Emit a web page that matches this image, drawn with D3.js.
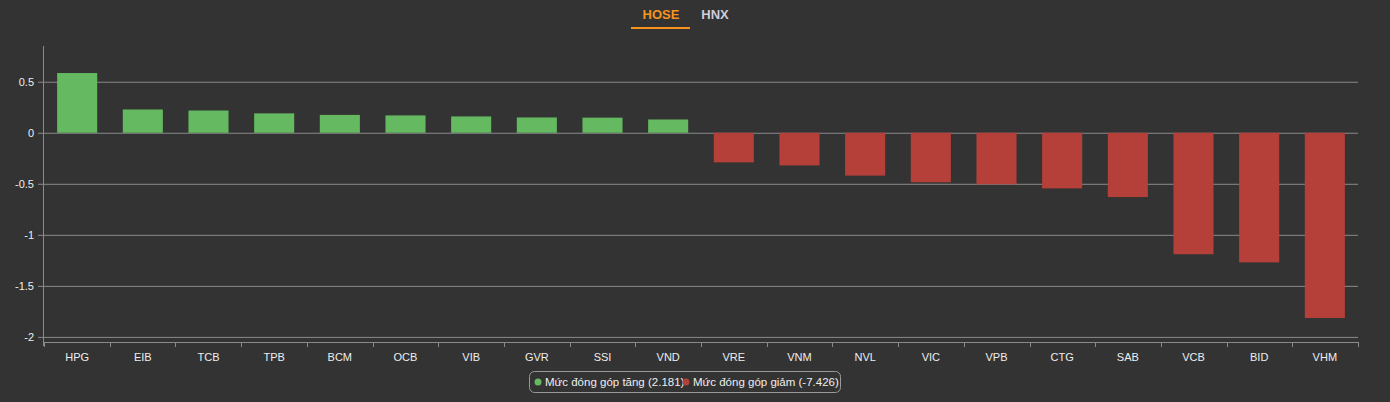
<!DOCTYPE html>
<html><head><meta charset="utf-8">
<script src="https://cdn.jsdelivr.net/npm/d3@7"></script>
<style>body{margin:0;background:#333;}svg{display:block;font-family:"Liberation Sans",Arial,sans-serif;}</style>
</head><body><svg id="c" width="1390" height="402"></svg>
<script>
const categories=["HPG","EIB","TCB","TPB","BCM","OCB","VIB","GVR","SSI","VND","VRE","VNM","NVL","VIC","VPB","CTG","SAB","VCB","BID","VHM"];
const values=[0.585,0.228,0.218,0.19,0.175,0.17,0.16,0.15,0.148,0.13,-0.29,-0.32,-0.42,-0.485,-0.505,-0.545,-0.63,-1.19,-1.27,-1.815];
const yTicks=[0.5,0,-0.5,-1,-1.5,-2];
const tabs=["HOSE","HNX"];
const legend=["Mức đóng góp tăng (2.181)","Mức đóng góp giảm (-7.426)"];
const svg=d3.select("#c");
const x=d3.scaleBand().domain(categories).range([44,1358]).paddingInner(0.39).paddingOuter(0.2);
const y=d3.scaleLinear().domain([-2.05,0.85]).range([342,46]);
// tabs
svg.append("text").attr("x",661).attr("y",19).attr("text-anchor","middle").attr("fill","#f7941d").attr("font-size",13).attr("font-weight","bold").text(tabs[0]);
svg.append("rect").attr("x",631).attr("y",27).attr("width",59).attr("height",2).attr("fill","#f7941d");
svg.append("text").attr("x",715).attr("y",19).attr("text-anchor","middle").attr("fill","#ccd").attr("font-size",13).attr("font-weight","bold").text(tabs[1]);
// grid
svg.append("g").selectAll("line").data(yTicks).join("line").attr("x1",44).attr("x2",1358).attr("y1",d=>y(d)+0.5).attr("y2",d=>y(d)+0.5).attr("stroke","#8a8a8a").attr("stroke-width",1);
svg.append("g").selectAll("text").data(yTicks).join("text").attr("x",34).attr("y",d=>y(d)+4).attr("text-anchor","end").attr("fill","#eee").attr("font-size",11).text(d=>d);
svg.append("g").selectAll("line").data(yTicks).join("line").attr("x1",38).attr("x2",43).attr("y1",d=>y(d)+0.5).attr("y2",d=>y(d)+0.5).attr("stroke","#8a8a8a");
svg.append("line").attr("x1",43.5).attr("x2",43.5).attr("y1",46).attr("y2",346).attr("stroke","#8a8a8a");
// bars
svg.append("g").selectAll("rect").data(values).join("rect")
 .attr("x",(d,i)=>x(categories[i])).attr("width",x.bandwidth())
 .attr("y",d=>d>0?y(d):y(0)).attr("height",d=>Math.abs(y(d)-y(0)))
 .attr("fill",d=>d>0?"#65b960":"#b5403a");
// x axis
svg.append("line").attr("x1",44).attr("x2",1358).attr("y1",342.5).attr("y2",342.5).attr("stroke","#8a8a8a");
const step=x.step();
const tk=d3.range(21).map(i=>44+i*(1314/20));
svg.append("g").selectAll("line").data(tk).join("line").attr("x1",d=>Math.round(d)+0.5).attr("x2",d=>Math.round(d)+0.5).attr("y1",342).attr("y2",347).attr("stroke","#8a8a8a");
svg.append("g").selectAll("text").data(categories).join("text").attr("x",d=>x(d)+x.bandwidth()/2).attr("y",361).attr("text-anchor","middle").attr("fill","#eee").attr("font-size",11).text(d=>d);
// legend
svg.append("rect").attr("x",529.5).attr("y",371.5).attr("width",311).attr("height",21).attr("rx",5).attr("fill","none").attr("stroke","#999");
svg.append("circle").attr("cx",538).attr("cy",382).attr("r",3.5).attr("fill","#65b960");
svg.append("text").attr("x",545).attr("y",386).attr("fill","#eee").attr("font-size",11.5).text(legend[0]);
svg.append("circle").attr("cx",686).attr("cy",382).attr("r",3.5).attr("fill","#b5403a");
svg.append("text").attr("x",693).attr("y",386).attr("fill","#eee").attr("font-size",11.5).text(legend[1]);
</script></body></html>
